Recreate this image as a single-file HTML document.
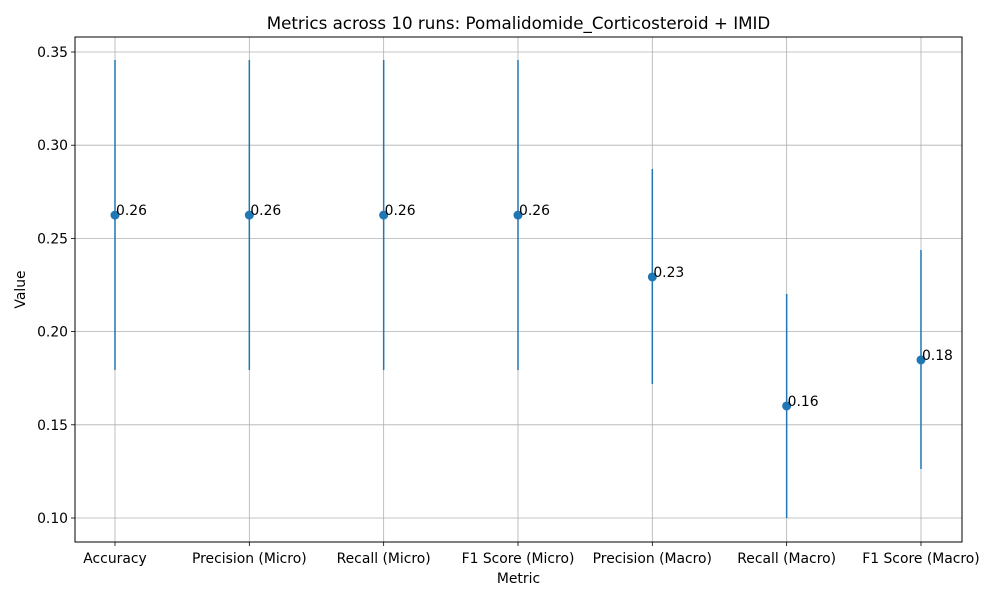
<!DOCTYPE html>
<html><head><meta charset="utf-8"><style>
body{margin:0;background:#fff;font-family:"DejaVu Sans",sans-serif}
</style></head><body>
<svg id="chart" width="1000" height="600" xmlns="http://www.w3.org/2000/svg" font-family="DejaVu Sans, sans-serif"></svg>
<script>
const categories=["Accuracy","Precision (Micro)","Recall (Micro)","F1 Score (Micro)","Precision (Macro)","Recall (Macro)","F1 Score (Macro)"];
const means=[0.2625,0.2625,0.2625,0.2625,0.2293,0.1601,0.1848];
const lowers=[0.1794,0.1794,0.1794,0.1794,0.1719,0.1000,0.1263];
const uppers=[0.3457,0.3457,0.3457,0.3457,0.2872,0.2202,0.2438];
const valueLabels=["0.26","0.26","0.26","0.26","0.23","0.16","0.18"];
const yTicks=[0.10,0.15,0.20,0.25,0.30,0.35];
const yTickLabels=["0.10","0.15","0.20","0.25","0.30","0.35"];

const svg=document.getElementById('chart');
const NS="http://www.w3.org/2000/svg";
const L=75,R=962,T=37,B=542;
function y(v){return 518-(v-0.10)/0.05*93.2;}
function x(i){return 115+i*134.33;}
function mk(tag,attrs,txt){const e=document.createElementNS(NS,tag);for(const k in attrs)e.setAttribute(k,attrs[k]);if(txt!==undefined)e.textContent=txt;svg.appendChild(e);return e;}

yTicks.forEach((v,i)=>{
  const g=mk('line',{x1:L,x2:R,y1:y(v),y2:y(v),stroke:'#b0b0b0','stroke-width':0.8});
  
  
  mk('line',{x1:L-4,x2:L,y1:y(v),y2:y(v),stroke:'#000','stroke-width':0.8});
  const t=mk('text',{x:L-7,y:y(v)+5,'text-anchor':'end','font-size':13.9},yTickLabels[i]);
  
  
});
categories.forEach((c,i)=>{
  const g=mk('line',{x1:x(i),x2:x(i),y1:T,y2:B,stroke:'#b0b0b0','stroke-width':0.8});
  
  
  mk('line',{x1:x(i),x2:x(i),y1:B,y2:B+4,stroke:'#000','stroke-width':0.8});
  const t=mk('text',{x:x(i),y:B+21,'text-anchor':'middle','font-size':13.9},c);
  
  
});
categories.forEach((c,i)=>{
  const e=mk('line',{x1:x(i),x2:x(i),y1:y(uppers[i]),y2:y(lowers[i]),stroke:'#1f77b4','stroke-width':1.5});
  
  
  const p=mk('circle',{cx:x(i),cy:y(means[i]),r:4.5,fill:'#1f77b4'});
  
  
  const t=mk('text',{x:x(i)+1,y:y(means[i]),'font-size':13.9},valueLabels[i]);
  
  
});
const frame=mk('rect',{x:L,y:T,width:R-L,height:B-T,fill:'none',stroke:'#000','stroke-width':1});


const ti=mk('text',{x:(L+R)/2,y:29,'text-anchor':'middle','font-size':16.7},"Metrics across 10 runs: Pomalidomide_Corticosteroid + IMID");


const xt=mk('text',{x:(L+R)/2,y:583,'text-anchor':'middle','font-size':13.9},"Metric");


const yt=mk('text',{x:25,y:(T+B)/2,'text-anchor':'middle','font-size':13.9,transform:`rotate(-90 25 ${(T+B)/2})`},"Value");


</script>
</body></html>
